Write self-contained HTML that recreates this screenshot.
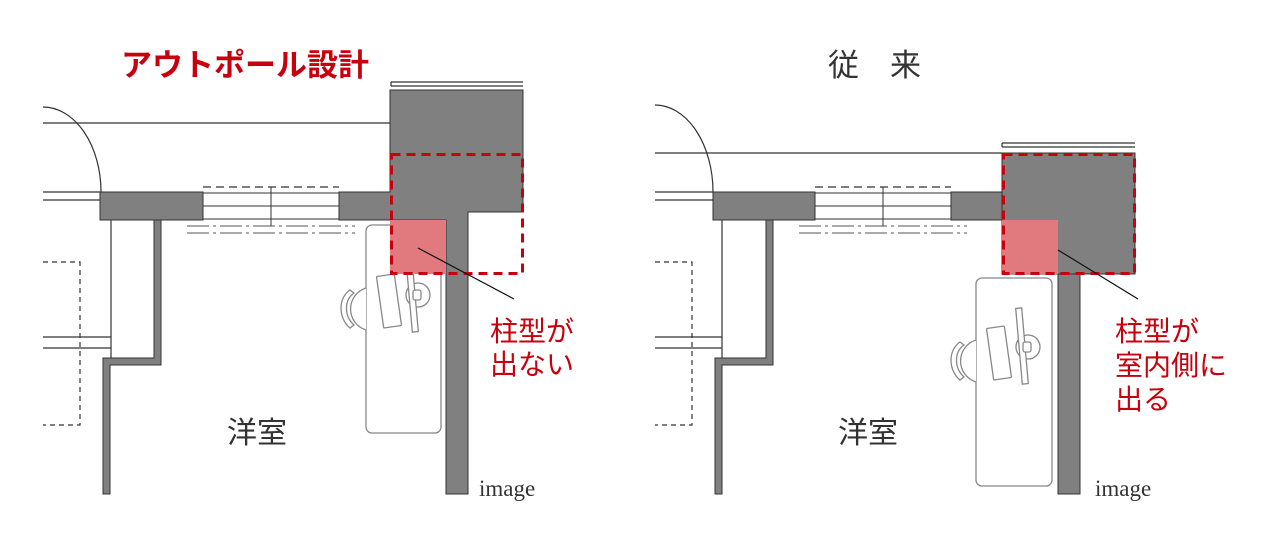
<!DOCTYPE html>
<html><head><meta charset="utf-8"><style>
html,body{margin:0;padding:0;background:#fff;}
svg{display:block}
</style></head><body>
<svg width="1280" height="542" viewBox="0 0 1280 542" xmlns="http://www.w3.org/2000/svg">
<g fill="none" stroke="#333" stroke-width="1.2">
<line x1="391" y1="82" x2="523" y2="82"/><line x1="391" y1="86" x2="523" y2="86"/><line x1="391" y1="82" x2="391" y2="86"/>
<line x1="43" y1="123" x2="390" y2="123"/>
<path d="M43,107 A58 85 0 0 1 101 192"/>
<line x1="43" y1="192" x2="101" y2="192"/><line x1="43" y1="200" x2="101" y2="200"/>
<line x1="43" y1="337" x2="111" y2="337"/><line x1="43" y1="348" x2="111" y2="348"/>
<path d="M43,262 H80 V425 H43" stroke-dasharray="5,4"/>
<line x1="111" y1="220" x2="111" y2="358"/>
<line x1="203" y1="187" x2="339" y2="187" stroke-dasharray="8,5"/>
<line x1="187" y1="226" x2="355" y2="226" stroke="#777" stroke-dasharray="22,4,3,4"/>
<line x1="187" y1="233" x2="355" y2="233" stroke="#777" stroke-dasharray="22,4,3,4"/>
<line x1="1002" y1="143" x2="1135" y2="143"/><line x1="1002" y1="147" x2="1135" y2="147"/><line x1="1002" y1="143" x2="1002" y2="147"/>
<line x1="655" y1="153" x2="1002" y2="153"/>
<path d="M655,105 A58 87 0 0 1 713 192"/>
<line x1="655" y1="192" x2="713" y2="192"/><line x1="655" y1="200" x2="713" y2="200"/>
<line x1="655" y1="337" x2="722" y2="337"/><line x1="655" y1="348" x2="722" y2="348"/>
<path d="M655,262 H692 V425 H655" stroke-dasharray="5,4"/>
<line x1="722" y1="220" x2="722" y2="358"/>
<line x1="815" y1="187" x2="951" y2="187" stroke-dasharray="8,5"/>
<line x1="799" y1="226" x2="967" y2="226" stroke="#777" stroke-dasharray="22,4,3,4"/>
<line x1="799" y1="233" x2="967" y2="233" stroke="#777" stroke-dasharray="22,4,3,4"/>
</g>
<g fill="#808080" stroke="#333" stroke-width="1">
<rect x="100" y="192" width="103" height="28"/>
<path d="M339,192 H390 V90 H523 V212 H468 V494 H446 V220 H339 Z"/>
<path d="M154,220 H161 V365 H110 V494 H103 V358 H154 Z"/>
<rect x="713" y="192" width="102" height="28"/>
<rect x="951" y="192" width="51" height="28"/>
<rect x="1002" y="153" width="133" height="121"/>
<rect x="1058" y="274" width="22" height="220"/>
<path d="M766,220 H773 V365 H722 V494 H715 V358 H766 Z"/>
</g>
<rect x="203" y="193" width="136" height="26" fill="#fff" stroke="#333"/>
<line x1="203" y1="206" x2="339" y2="206" stroke="#333"/>
<line x1="271" y1="187" x2="271" y2="226" stroke="#333"/>
<rect x="815" y="193" width="136" height="26" fill="#fff" stroke="#333"/>
<line x1="815" y1="206" x2="951" y2="206" stroke="#333"/>
<line x1="883" y1="187" x2="883" y2="226" stroke="#333"/>
<g fill="#fff" stroke="#888" stroke-width="1.3">
<rect x="366" y="225" width="75" height="208" rx="6"/>
<rect x="976" y="278" width="76" height="208" rx="6"/>
<g>
<path d="M366,288 A22 22 0 0 0 366 330"/>
<path d="M350,290 C338,298 338,318 350,328 L354,325 C344,316 344,300 354,293 Z"/>
<rect x="380" y="275" width="18" height="52" rx="1" transform="rotate(-8 389 301)"/>
<circle cx="418" cy="295" r="12"/>
<rect x="409" y="256" width="6" height="76" transform="rotate(-5 412 294)"/>
<rect x="413" y="290" width="8" height="10" rx="2"/>
</g>
<g transform="translate(610,52)">
<path d="M366,288 A22 22 0 0 0 366 330"/>
<path d="M350,290 C338,298 338,318 350,328 L354,325 C344,316 344,300 354,293 Z"/>
<rect x="380" y="275" width="18" height="52" rx="1" transform="rotate(-8 389 301)"/>
<circle cx="418" cy="295" r="12"/>
<rect x="409" y="256" width="6" height="76" transform="rotate(-5 412 294)"/>
<rect x="413" y="290" width="8" height="10" rx="2"/>
</g>
</g>
<rect x="390" y="220" width="56" height="54" fill="#e07a7e"/>
<rect x="1002" y="220" width="56" height="54" fill="#e07a7e"/>
<rect x="391.5" y="154.5" width="131" height="119" fill="none" stroke="#c8000e" stroke-width="3" stroke-dasharray="9,6"/>
<rect x="1003.5" y="154.5" width="131" height="119" fill="none" stroke="#c8000e" stroke-width="3" stroke-dasharray="9,6"/>
<line x1="418" y1="248" x2="514" y2="299" stroke="#111" stroke-width="1.2"/>
<line x1="1058" y1="250" x2="1138" y2="299" stroke="#111" stroke-width="1.2"/>
<g font-family="'Liberation Sans','Noto Sans CJK JP',sans-serif">
<text x="121" y="76" font-size="31" font-weight="bold" fill="#c8000e">アウトポール設計</text>
<text x="828" y="76" font-size="31" fill="#333">従　来</text>
<g font-size="28" fill="#c8000e">
<text x="490" y="341">柱型が</text><text x="490" y="374">出ない</text>
<text x="1115" y="341">柱型が</text><text x="1115" y="375">室内側に</text><text x="1115" y="409">出る</text>
</g>
<text x="227" y="443" font-size="30" fill="#333">洋室</text>
<text x="838" y="443" font-size="30" fill="#333">洋室</text>
</g>
<text x="479" y="496" font-family="'Liberation Serif',serif" font-size="23" fill="#333">image</text>
<text x="1095" y="496" font-family="'Liberation Serif',serif" font-size="23" fill="#333">image</text>
</svg>
</body></html>
